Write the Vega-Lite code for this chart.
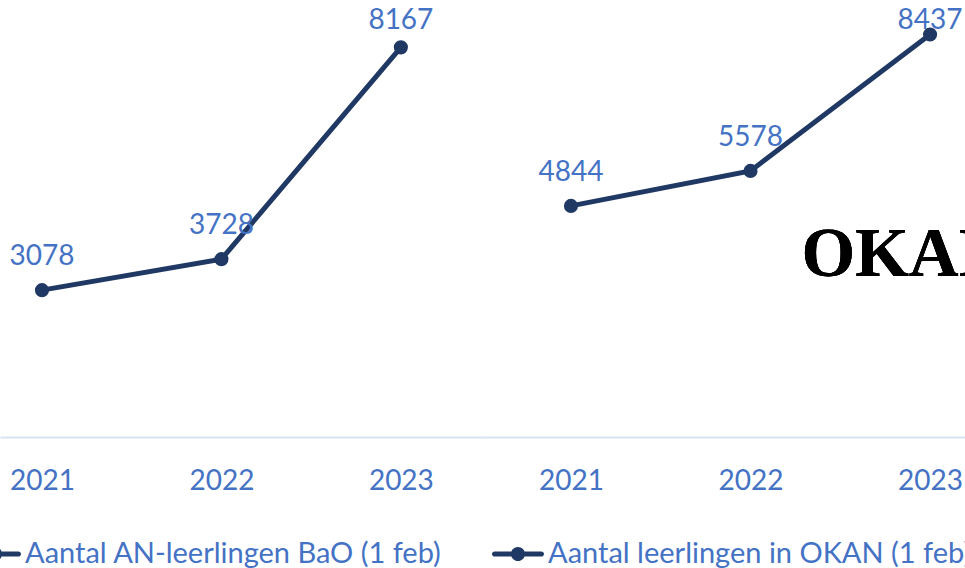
{
  "$schema": "https://vega.github.io/schema/vega-lite/v6.json",
  "autosize": {"type": "pad"},
  "padding": {"left": -31, "top": 0, "right": 0, "bottom": 0},
  "spacing": 0,
  "background": "white",
  "datasets": {
    "bao": [
      {"jaar": "2021", "aantal": 3078, "reeks": "Aantal AN-leerlingen BaO (1 feb)"},
      {"jaar": "2022", "aantal": 3728, "reeks": "Aantal AN-leerlingen BaO (1 feb)"},
      {"jaar": "2023", "aantal": 8167, "reeks": "Aantal AN-leerlingen BaO (1 feb)"}
    ],
    "okan": [
      {"jaar": "2021", "aantal": 4844, "reeks": "Aantal leerlingen in OKAN (1 feb)"},
      {"jaar": "2022", "aantal": 5578, "reeks": "Aantal leerlingen in OKAN (1 feb)"},
      {"jaar": "2023", "aantal": 8437, "reeks": "Aantal leerlingen in OKAN (1 feb)"}
    ]
  },
  "resolve": {"legend": {"color": "independent"}, "scale": {"x": "independent", "y": "independent", "color": "independent"}},
  "config": {
    "view": {"stroke": null},
    "font": "Lato",
    "axis": {
      "domainColor": "#d9e2f0",
      "domainWidth": 2,
      "ticks": false,
      "grid": false,
      "labelColor": "#4472c4",
      "labelFont": "Lato",
      "labelFontSize": 28,
      "labelPadding": 30,
      "labelAngle": 0,
      "title": null
    },
    "legend": {
      "padding": 0,
      "labelFont": "Lato",
      "labelFontSize": 29,
      "labelColor": "#4472c4",
      "labelLimit": 0,
      "labelOffset": 4,
      "symbolSize": 2704,
      "symbolType": "M-0.9,-0.1 L0.9,-0.1 A0.1,0.1 0 0,1 0.9,0.1 L-0.9,0.1 A0.1,0.1 0 0,1 -0.9,-0.1 Z M0.27,0 A0.27,0.27 0 1,1 -0.27,0 A0.27,0.27 0 1,1 0.27,0 Z",
      "title": null
    }
  },
  "hconcat": [
    {
      "width": 482,
      "height": 437,
      "data": {"name": "bao"},
      "encoding": {
        "x": {"field": "jaar", "type": "ordinal", "scale": {"type": "point", "padding": 0.343, "align": 0.341}, "axis": {"orient": "bottom"}},
        "y": {"field": "aantal", "type": "quantitative", "scale": {"domain": [0, 9160], "nice": false}, "axis": null}
      },
      "layer": [
        {
          "mark": {"type": "line", "strokeWidth": 5, "point": {"filled": true, "size": 200, "color": "#1f3864"}},
          "encoding": {
            "color": {"field": "reeks", "type": "nominal", "scale": {"range": ["#1f3864"]},
              "legend": {"orient": "none", "legendX": -31, "legendY": 528, "title": null,
                "encode": {"symbols": {"update": {"fill": {"value": "#1f3864"}, "stroke": {"value": "transparent"}, "strokeWidth": {"value": 0}}}}}}
          }
        },
        {
          "transform": [{"calculate": "min(datum.aantal + 692, 8720)", "as": "labelpos"}],
          "mark": {"type": "text", "fontSize": 28, "font": "Lato", "color": "#4472c4", "baseline": "middle"},
          "encoding": {
            "y": {"field": "labelpos", "type": "quantitative"},
            "text": {"field": "aantal", "type": "quantitative", "format": "d"}
          }
        }
      ]
    },
    {
      "width": 483,
      "height": 437,
      "data": {"name": "okan"},
      "encoding": {
        "x": {"field": "jaar", "type": "ordinal", "scale": {"type": "point", "padding": 0.345, "align": 0.718}, "axis": {"orient": "bottom"}},
        "y": {"field": "aantal", "type": "quantitative", "scale": {"domain": [0, 9160], "nice": false}, "axis": null}
      },
      "layer": [
        {
          "mark": {"type": "line", "strokeWidth": 5, "point": {"filled": true, "size": 200, "color": "#1f3864"}},
          "encoding": {
            "color": {"field": "reeks", "type": "nominal", "scale": {"range": ["#1f3864"]},
              "legend": {"orient": "none", "legendX": 10, "legendY": 528, "title": null,
                "encode": {"symbols": {"update": {"fill": {"value": "#1f3864"}, "stroke": {"value": "transparent"}, "strokeWidth": {"value": 0}}}}}}
          }
        },
        {
          "transform": [{"calculate": "min(datum.aantal + 692, 8720)", "as": "labelpos"}],
          "mark": {"type": "text", "fontSize": 28, "font": "Lato", "color": "#4472c4", "baseline": "middle"},
          "encoding": {
            "y": {"field": "labelpos", "type": "quantitative"},
            "text": {"field": "aantal", "type": "quantitative", "format": "d"}
          }
        },
        {
          "mark": {"type": "text", "text": "OKAN", "font": "Liberation Serif", "fontWeight": "bold", "fontSize": 69, "color": "#000000", "align": "left", "baseline": "alphabetic", "dx": 51},
          "encoding": {"x": {"datum": "2022"}, "y": {"datum": 3380}}
        }
      ]
    }
  ]
}
